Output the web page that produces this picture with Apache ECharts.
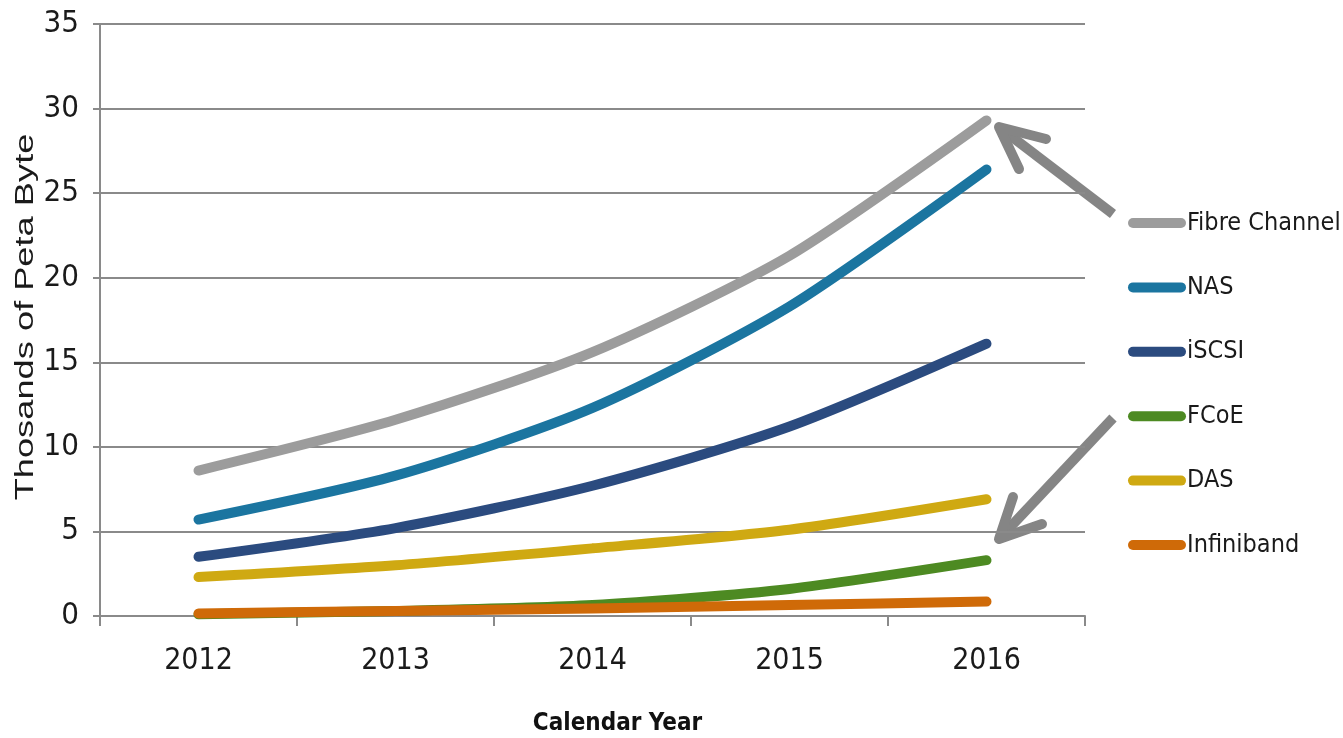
<!DOCTYPE html>
<html>
<head>
<meta charset="utf-8">
<style>
  html, body { margin: 0; padding: 0; background: #ffffff; }
  #chart { width: 1343px; height: 738px; }
</style>
<script src="https://cdn.jsdelivr.net/npm/echarts@6/dist/echarts.min.js"></script>
</head>
<body>
<div id="chart"></div>
<script>
// Storage capacity shipped per interconnect, thousands of petabytes
const years = ['2012', '2013', '2014', '2015', '2016'];
const fibreChannel = [8.6, 11.6, 15.6, 21.3, 29.3];
const nas = [5.7, 8.3, 12.3, 18.3, 26.4];
const iscsi = [3.5, 5.2, 7.7, 11.2, 16.1];
const fcoe = [0.1, 0.3, 0.65, 1.6, 3.3];
const das = [2.3, 3.0, 4.0, 5.1, 6.9];
const infiniband = [0.15, 0.3, 0.45, 0.65, 0.85];
const yTicks = [0, 5, 10, 15, 20, 25, 30, 35];

const seriesDefs = [
  { name: 'Fibre Channel', data: fibreChannel, color: '#9c9c9c' },
  { name: 'NAS', data: nas, color: '#1b75a0' },
  { name: 'iSCSI', data: iscsi, color: '#2b4b7f' },
  { name: 'FCoE', data: fcoe, color: '#4d8a22' },
  { name: 'DAS', data: das, color: '#cfa912' },
  { name: 'Infiniband', data: infiniband, color: '#cf6a08' }
];

const narrow = "'Liberation Sans Narrow', 'DejaVu Sans Condensed', 'Liberation Sans', sans-serif";
const axisGray = '#8a8a8a';
const arrowGray = '#858585';

const chart = echarts.init(document.getElementById('chart'), null, { renderer: 'canvas' });

const capsule = 'path://M5,0 H53 A5,5 0 0 1 53,10 H5 A5,5 0 0 1 5,0 Z';

// Annotation arrows pointing from the legend toward the series endpoints
function arrow(tail, tip, barbA, barbB) {
  const style = { stroke: arrowGray, lineWidth: 10, lineCap: 'round', lineJoin: 'round' };
  return {
    type: 'group',
    silent: true,
    children: [
      { type: 'line', shape: { x1: tail[0], y1: tail[1], x2: tip[0], y2: tip[1] }, style: Object.assign({}, style, { lineCap: 'butt' }) },
      { type: 'polyline', shape: { points: [barbA, tip, barbB] }, style: Object.assign({}, style, { fill: null }) }
    ]
  };
}

chart.setOption({
  animation: false,
  backgroundColor: '#ffffff',
  grid: { left: 100, right: 258, top: 24, bottom: 122, containLabel: false, outerBoundsMode: 'none' },
  legend: {
    orient: 'vertical',
    left: 1123,
    top: 203,
    itemGap: 34.4,
    itemWidth: 58,
    itemHeight: 10,
    icon: capsule,
    textStyle: { fontFamily: narrow, fontSize: 25, lineHeight: 30, color: '#1a1a1a', padding: [0, 0, 0, -4] },
    data: seriesDefs.map(s => s.name)
  },
  xAxis: {
    type: 'category',
    data: years,
    boundaryGap: true,
    axisLine: { lineStyle: { color: axisGray, width: 2 } },
    axisTick: { show: true, length: 10, lineStyle: { color: axisGray, width: 2 } },
    axisLabel: { fontFamily: narrow, fontSize: 30, color: '#1a1a1a', margin: 30 },
    name: 'Calendar Year',
    nameLocation: 'middle',
    nameGap: 96,
    nameTextStyle: { fontFamily: narrow, fontSize: 24, fontWeight: 'bold', color: '#111111', padding: [0, 0, 0, 50] }
  },
  yAxis: {
    type: 'value',
    min: yTicks[0],
    max: yTicks[yTicks.length - 1],
    interval: 5,
    axisLine: { show: true, lineStyle: { color: axisGray, width: 2 } },
    axisTick: { show: true, length: 7, lineStyle: { color: axisGray, width: 2 } },
    axisLabel: { fontFamily: narrow, fontSize: 31, color: '#1a1a1a', margin: 21 },
    splitLine: { show: true, lineStyle: { color: axisGray, width: 2 } }
  },
  series: seriesDefs.map(s => ({
    name: s.name,
    type: 'line',
    data: s.data,
    smooth: 0.25,
    symbol: 'none',
    color: s.color,
    lineStyle: { color: s.color, width: 10, cap: 'round', join: 'round' },
    itemStyle: { color: s.color }
  })),
  graphic: [
    {
      type: 'text',
      x: 26,
      y: 317,
      rotation: Math.PI / 2,
      scaleX: 1.45,
      style: {
        text: 'Thosands of Peta Byte',
        fontFamily: "'Liberation Sans', Arial, sans-serif",
        fontSize: 25,
        fill: '#1a1a1a',
        align: 'center',
        verticalAlign: 'middle'
      }
    },
    arrow([1113, 214], [999, 127], [1046, 139], [1019, 169]),
    arrow([1113, 418], [999, 539], [1013, 497], [1042, 524])
  ]
});
</script>
</body>
</html>
